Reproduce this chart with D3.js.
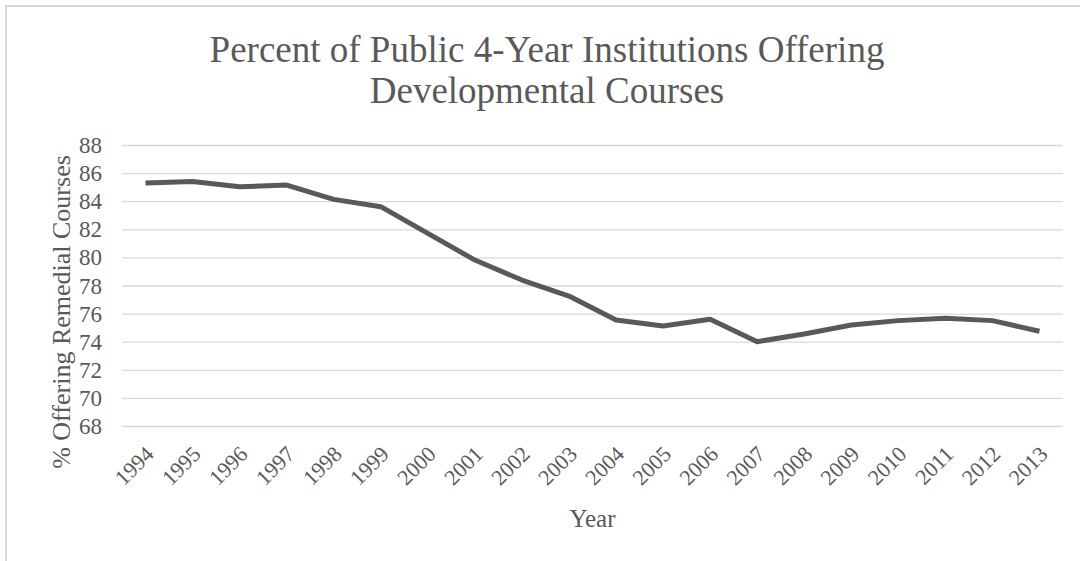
<!DOCTYPE html>
<html>
<head>
<meta charset="utf-8">
<script src="https://cdn.jsdelivr.net/npm/d3@7"></script>
<style>
    body { margin: 0; background: #fff; }
    svg { display: block; font-family: "Liberation Serif", "Times New Roman", serif; }
    .grid line { stroke: #d9d9d9; stroke-width: 1.3; }
    .tick-label { fill: #595959; }
</style>
</head>
<body>
<div class="chart"></div>
<script>

//////////
// DATA //
//////////

var years = ['1994', '1995', '1996', '1997', '1998', '1999', '2000', '2001', '2002', '2003',
    '2004', '2005', '2006', '2007', '2008', '2009', '2010', '2011', '2012', '2013'];

var pctOffering = [85.3, 85.4, 85.03, 85.15, 84.13, 83.61, 81.71, 79.81, 78.39, 77.25,
    75.55, 75.12, 75.6, 74.0, 74.55, 75.19, 75.5, 75.67, 75.5, 74.74];

var yTicks = [68, 70, 72, 74, 76, 78, 80, 82, 84, 86, 88];

var titleLines = ['Percent of Public 4-Year Institutions Offering', 'Developmental Courses'];

/////////////////////
// INTIAL SETTINGS //
/////////////////////

var w = 1080,
    h = 561,
    textColor = '#595959';

var plot = { left: 122, right: 1063, top: 145, bottom: 426 };

//////////////////
// CREATING SVG //
//////////////////

var svg = d3.select('.chart')
    .append('svg')
    .attr('width', w)
    .attr('height', h);

// chart area border (only top and left show in the picture)
svg.append('rect')
    .attr('x', 6)
    .attr('y', 6)
    .attr('width', w + 20)
    .attr('height', h + 20)
    .attr('fill', 'none')
    .attr('stroke', '#d9d9d9')
    .attr('stroke-width', 2);

////////////
// SCALES //
////////////

var xScale = d3.scaleBand()
    .domain(years)
    .range([plot.left, plot.right]);

var yScale = d3.scaleLinear()
    .domain([68, 88])
    .range([plot.bottom, plot.top]);

//////////
// GRID //
//////////

var yAxis = d3.axisLeft(yScale)
    .tickValues(yTicks)
    .tickSize(-(plot.right - plot.left))
    .tickFormat('');

svg.append('g')
    .attr('class', 'grid')
    .attr('transform', 'translate(' + plot.left + ',0)')
    .call(yAxis)
    .call(function(g) { g.select('.domain').remove(); });

/////////////////
// TICK LABELS //
/////////////////

svg.append('g')
    .selectAll('text')
    .data(yTicks)
    .enter()
    .append('text')
    .attr('class', 'tick-label')
    .attr('x', 102)
    .attr('y', function(d) { return yScale(d); })
    .attr('dy', '0.35em')
    .attr('text-anchor', 'end')
    .attr('font-size', 23)
    .text(function(d) { return d; });

svg.append('g')
    .selectAll('text')
    .data(years)
    .enter()
    .append('text')
    .attr('class', 'tick-label')
    .attr('font-size', 22)
    .attr('text-anchor', 'end')
    .attr('transform', function(d) {
        var x = xScale(d) + xScale.bandwidth() / 2 + 4;
        return 'translate(' + x + ',' + (plot.bottom + 24) + ') rotate(-45)';
    })
    .attr('dy', '0.35em')
    .text(function(d) { return d; });

//////////
// LINE //
//////////

var line = d3.line()
    .x(function(d, i) { return xScale(years[i]) + xScale.bandwidth() / 2; })
    .y(function(d) { return yScale(d); });

svg.append('path')
    .datum(pctOffering)
    .attr('d', line)
    .attr('fill', 'none')
    .attr('stroke', textColor)
    .attr('stroke-width', 5)
    .attr('stroke-linejoin', 'round');

////////////
// TITLES //
////////////

svg.append('g')
    .selectAll('text')
    .data(titleLines)
    .enter()
    .append('text')
    .attr('x', 547)
    .attr('y', function(d, i) { return 62 + i * 41; })
    .attr('text-anchor', 'middle')
    .attr('font-size', 37)
    .attr('fill', textColor)
    .text(function(d) { return d; });

svg.append('text')
    .attr('x', (plot.left + plot.right) / 2)
    .attr('y', 527)
    .attr('text-anchor', 'middle')
    .attr('font-size', 25)
    .attr('fill', textColor)
    .text('Year');

svg.append('text')
    .attr('transform', 'translate(70,312) rotate(-90)')
    .attr('text-anchor', 'middle')
    .attr('font-size', 26)
    .attr('fill', textColor)
    .text('% Offering Remedial Courses');

</script>
</body>
</html>
